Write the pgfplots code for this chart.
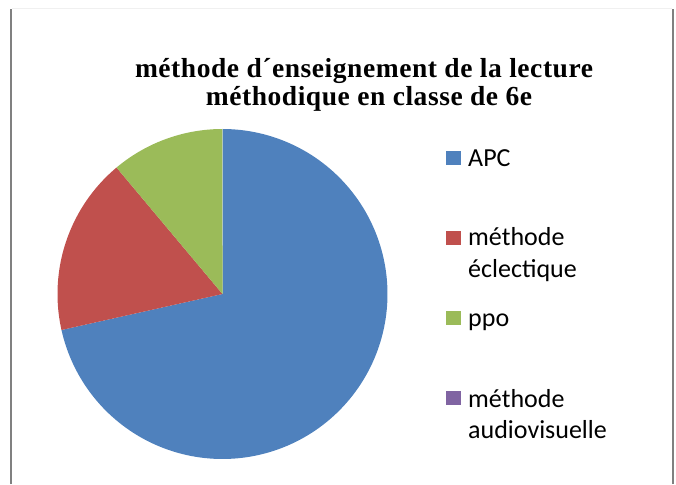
\documentclass[border=0pt]{standalone}
\usepackage{pgfplots}
\pgfplotsset{compat=1.18}
\usepackage{fontspec}
\setmainfont{Liberation Serif}
\newfontfamily\titlefont{Liberation Serif}[LetterSpace=2]
\newfontfamily\legfont{Carlito}
\definecolor{cA}{HTML}{4F81BD}
\definecolor{cB}{HTML}{C0504D}
\definecolor{cC}{HTML}{9BBB59}
\definecolor{cD}{HTML}{8064A2}
\definecolor{frame}{HTML}{808080}
\begin{document}
\begin{tikzpicture}
% values: APC, methode eclectique, ppo, methode audiovisuelle
\def\vA{71.5}\def\vB{17.4}\def\vC{11.1}\def\vD{0}
\pgfmathsetmacro{\tot}{\vA+\vB+\vC+\vD}
\pgfmathsetmacro{\aA}{90-360*(\vA/\tot)}
\pgfmathsetmacro{\aB}{\aA-360*(\vB/\tot)}
\pgfmathsetmacro{\aC}{\aB-360*(\vC/\tot)}
\begin{axis}[x=1pt,y=1pt,xmin=0,xmax=676,ymin=0,ymax=484,hide axis,clip=false,anchor=origin,at={(0,0)}]
\addplot[fill=cA,draw=none,domain=\aA:90,samples=160] ({222.5+165*cos(x)},{190+165*sin(x)}) -- (axis cs:222.5,190) -- cycle;
\addplot[fill=cB,draw=none,domain=\aB:\aA,samples=60] ({222.5+165*cos(x)},{190+165*sin(x)}) -- (axis cs:222.5,190) -- cycle;
\addplot[fill=cC,draw=none,domain=\aC:\aB,samples=40] ({222.5+165*cos(x)},{190+165*sin(x)}) -- (axis cs:222.5,190) -- cycle;
% frame
\draw[color=frame,line width=2pt] (axis cs:11,0) -- (axis cs:11,475);
\draw[color=frame,line width=2pt] (axis cs:673,0) -- (axis cs:673,475);
\draw[color=black!6,line width=1pt] (axis cs:12,475) -- (axis cs:672,475);
% title
\node[anchor=base,inner sep=0pt,font=\titlefont\bfseries\fontsize{27.5}{31}\selectfont] at (axis cs:364,406) {méthode d´enseignement de la lecture};
\node[anchor=base,inner sep=0pt,font=\titlefont\bfseries\fontsize{27.5}{31}\selectfont] at (axis cs:369,378) {méthodique en classe de 6e};
% legend
\fill[cA] (axis cs:446,319) rectangle (axis cs:461,333);
\fill[cB] (axis cs:446,239) rectangle (axis cs:461,253);
\fill[cC] (axis cs:446,159) rectangle (axis cs:461,173);
\fill[cD] (axis cs:446,79) rectangle (axis cs:461,93);
\begin{scope}[every node/.style={anchor=base west,inner sep=0pt,font=\legfont\fontsize{26}{32}\selectfont}]
\node at (axis cs:468,317) {APC};
\node at (axis cs:468,238) {méthode};
\node at (axis cs:468,206) {éclectique};
\node at (axis cs:468,157) {ppo};
\node at (axis cs:468,76) {méthode};
\node at (axis cs:468,46) {audiovisuelle};
\end{scope}
\end{axis}
\pgfresetboundingbox
\path[use as bounding box] (0,0) rectangle (676pt,484pt);
\end{tikzpicture}
\end{document}
